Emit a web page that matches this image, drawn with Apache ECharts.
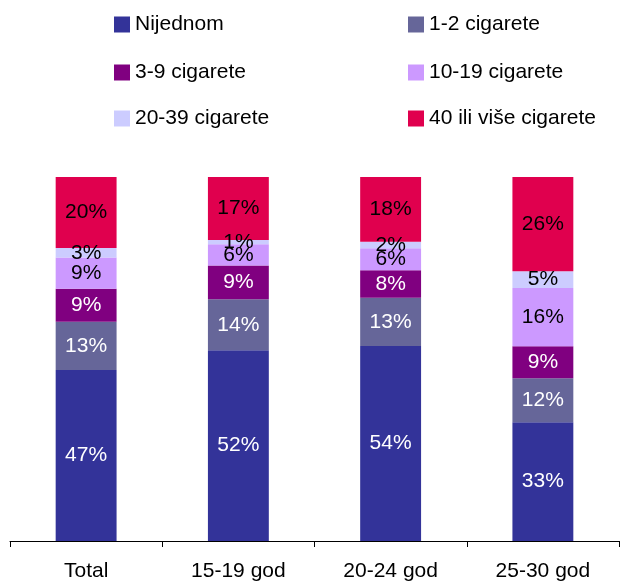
<!DOCTYPE html>
<html>
<head>
<meta charset="utf-8">
<script src="https://cdn.jsdelivr.net/npm/echarts@6/dist/echarts.min.js"></script>
<style>
  html, body { margin: 0; padding: 0; background: #fff; }
  #chart { width: 620px; height: 581px; }
</style>
</head>
<body>
<div id="chart"></div>
<script>
// Share of respondents by daily cigarette count, per age group (percent)
const categories = ['Total', '15-19 god', '20-24 god', '25-30 god'];
const seriesNames = ['Nijednom', '1-2 cigarete', '3-9 cigarete', '10-19 cigarete', '20-39 cigarete', '40 ili više cigarete'];
const nijednom = [47.0, 52.4, 53.6, 32.6];
const cig1to2 = [13.2, 14.0, 13.2, 12.1];
const cig3to9 = [9.1, 9.3, 7.6, 8.8];
const cig10to19 = [8.6, 5.8, 6.0, 16.0];
const cig20to39 = [2.6, 1.2, 1.8, 4.6];
const cig40plus = [19.5, 17.3, 17.8, 25.9];

const seriesData = [nijednom, cig1to2, cig3to9, cig10to19, cig20to39, cig40plus];
const colors = ['#333399', '#666699', '#800080', '#CC99FF', '#CCCCFF', '#E0004E'];
const labelColors = ['#fff', '#fff', '#fff', '#000', '#000', '#000'];

const FONT = '"Liberation Sans", Arial, sans-serif';
const FONT_SIZE = 21;

// one legend per entry, laid out in a 2-column grid
const legendLefts = [114, 408];
const legendTops = [14, 62, 108];
const legends = seriesNames.map((name, i) => ({
  data: [name],
  left: legendLefts[i % 2],
  top: legendTops[Math.floor(i / 2)],
  padding: 0,
  itemWidth: 16,
  itemHeight: 16,
  icon: 'rect',
  selectedMode: false,
  textStyle: { fontFamily: FONT, fontSize: FONT_SIZE, color: '#000' }
}));

const chart = echarts.init(document.getElementById('chart'), null, { renderer: 'canvas' });
chart.setOption({
  animation: false,
  color: colors,
  legend: legends,
  grid: { left: 10, right: 1, top: 177, bottom: 40, containLabel: false, outerBoundsMode: 'none' },
  xAxis: {
    type: 'category',
    data: categories,
    axisLine: { lineStyle: { color: '#000', width: 1 } },
    axisTick: { show: true, length: 6, lineStyle: { color: '#000' } },
    axisLabel: { fontFamily: FONT, fontSize: FONT_SIZE, color: '#000', margin: 20 }
  },
  yAxis: {
    type: 'value',
    min: 0,
    max: 100,
    show: false,
    splitLine: { show: false }
  },
  series: seriesNames.map((name, i) => ({
    name: name,
    type: 'bar',
    stack: 'total',
    barWidth: '40%',
    data: seriesData[i],
    itemStyle: { color: colors[i] },
    label: {
      show: true,
      position: 'inside',
      fontFamily: FONT,
      fontSize: FONT_SIZE,
      color: labelColors[i],
      textBorderWidth: 0,
      formatter: p => Math.round(p.value) + '%'
    }
  }))
});
</script>
</body>
</html>
